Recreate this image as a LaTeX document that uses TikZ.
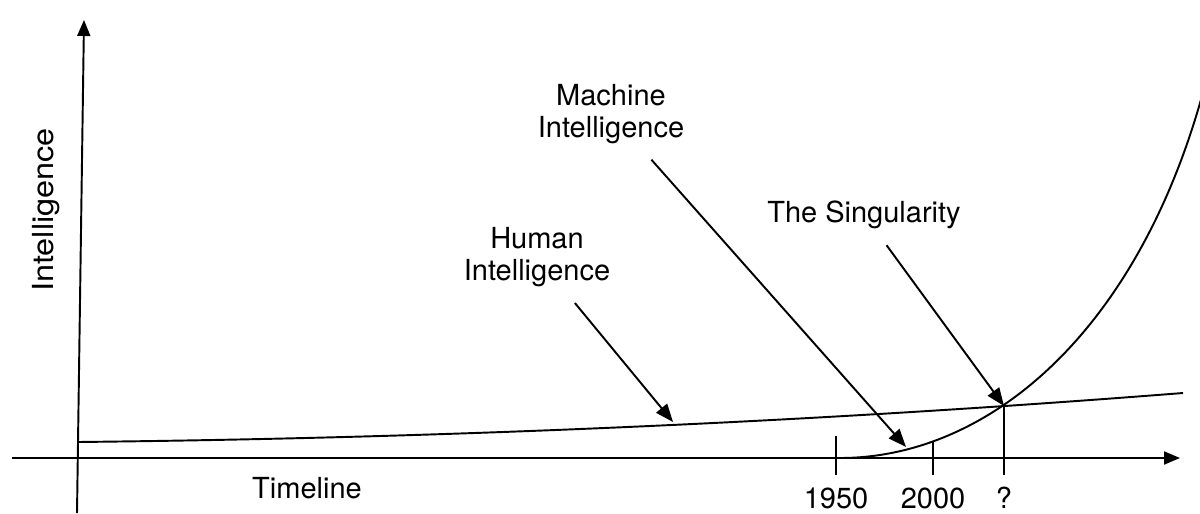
\documentclass[tikz,border=0pt]{standalone}
\usepackage{fontspec}
\setmainfont{TeX Gyre Heros}
\usetikzlibrary{arrows.meta}

\begin{document}
\begin{tikzpicture}[x=0.2mm, y=-0.2mm, line width=1.1pt,
  axis/.style={-{Triangle[length=3.2mm, width=2.6mm]}},
  pointer/.style={-{Triangle[length=3.6mm, width=2.8mm]}, shorten <=2.5mm},
  lab/.style={font=\fontsize{16.5pt}{18pt}\selectfont, align=center},
  year/.style={font=\fontsize{16.5pt}{18pt}\selectfont, anchor=base, inner sep=0pt, text depth=0pt}]
  \clip (0,0) rectangle (1200,513);
  % Axes
  \draw[axis] (77,513) -- (84,20);
  \draw[axis] (12,458) -- (1180,458);
  \node[lab, rotate=90, anchor=base] (ylab) at (53,210) {\scalebox{1.12}[1]{Intelligence}};
  \node[lab, anchor=base] (xlab) at (307,498) {Timeline};
  % Curves
  \coordinate (sing) at (1004,406);
  \draw (78,442) .. controls (446,438) and (814,422) .. (1183,393);
  \draw (822,458) -- (840,458) .. controls (990,458) and (1140,330) .. (1205,85);
  % Ticks
  \foreach \x/\top/\lab in {836/436/1950, 933/441/2000, 1004/406/?} {
    \draw (\x,\top) -- (\x,475);
    \node[year] at (\x,508) {\lab};
  }
  % Labels
  \node[lab] (machine) at (611,114) {Machine\\Intelligence};
  \node[lab] (human) at (537,257) {Human\\Intelligence};
  \node[lab, anchor=base] (single) at (864,222) {The Singularity};
  \coordinate (mtip) at (906,447);
  \coordinate (htip) at (673,422);
  \draw[pointer] (machine) -- (mtip);
  \draw[pointer] (human) -- (htip);
  \draw[pointer] (single) -- (sing);
\end{tikzpicture}
\end{document}
